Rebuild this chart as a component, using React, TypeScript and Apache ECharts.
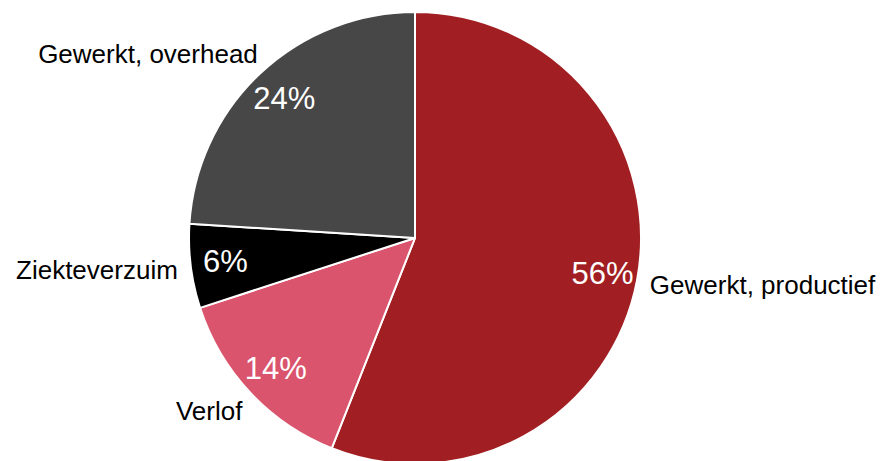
import React, { useEffect, useRef } from "react";
import * as echarts from "echarts";

const categories = ["Gewerkt, productief", "Verlof", "Ziekteverzuim", "Gewerkt, overhead"];
const values = [56, 14, 6, 24];
const colors = ["#A11F22", "#D9546C", "#000000", "#474747"];

export default function App() {
  const ref = useRef<HTMLDivElement>(null);
  useEffect(() => {
    if (!ref.current) return;
    const chart = echarts.init(ref.current, null, { renderer: "svg" });
    const data = categories.map((name, i) => ({
      name,
      value: values[i],
      itemStyle: { color: colors[i] },
    }));
    chart.setOption({
      animation: false,
      backgroundColor: "#ffffff",
      series: [
        {
          type: "pie",
          center: [415, 238],
          radius: 226,
          startAngle: 90,
          clockwise: true,
          avoidLabelOverlap: false,
          silent: true,
          itemStyle: { borderColor: "#ffffff", borderWidth: 2 },
          label: {
            show: true,
            position: "outside",
            formatter: "{b}",
            color: "#000000",
            fontFamily: "Liberation Sans, Arial, sans-serif",
            fontSize: 26,
          },
          labelLine: { show: false, length: 8, length2: 0 },
          labelLayout: (params: any) =>
            params.dataIndex === 3
              ? { dx: 8, dy: -13 }
              : params.dataIndex === 1
              ? { dx: 3, dy: 13 }
              : { dy: 3 },
          data,
        },
        {
          type: "pie",
          center: [415, 238],
          radius: [150, 226],
          startAngle: 90,
          clockwise: true,
          avoidLabelOverlap: false,
          silent: true,
          itemStyle: { color: "rgba(0,0,0,0)", borderWidth: 0 },
          label: {
            show: true,
            position: "inside",
            formatter: "{c}%",
            color: "#ffffff",
            fontFamily: "Liberation Sans, Arial, sans-serif",
            fontSize: 31,
          },
          labelLine: { show: false },
          data: categories.map((name, i) => ({ name, value: values[i] })),
        },
      ],
    });
    return () => chart.dispose();
  }, []);
  return (
    <div
      ref={ref}
      style={{ position: "fixed", left: 0, top: 0, width: 885, height: 461 }}
    />
  );
}
